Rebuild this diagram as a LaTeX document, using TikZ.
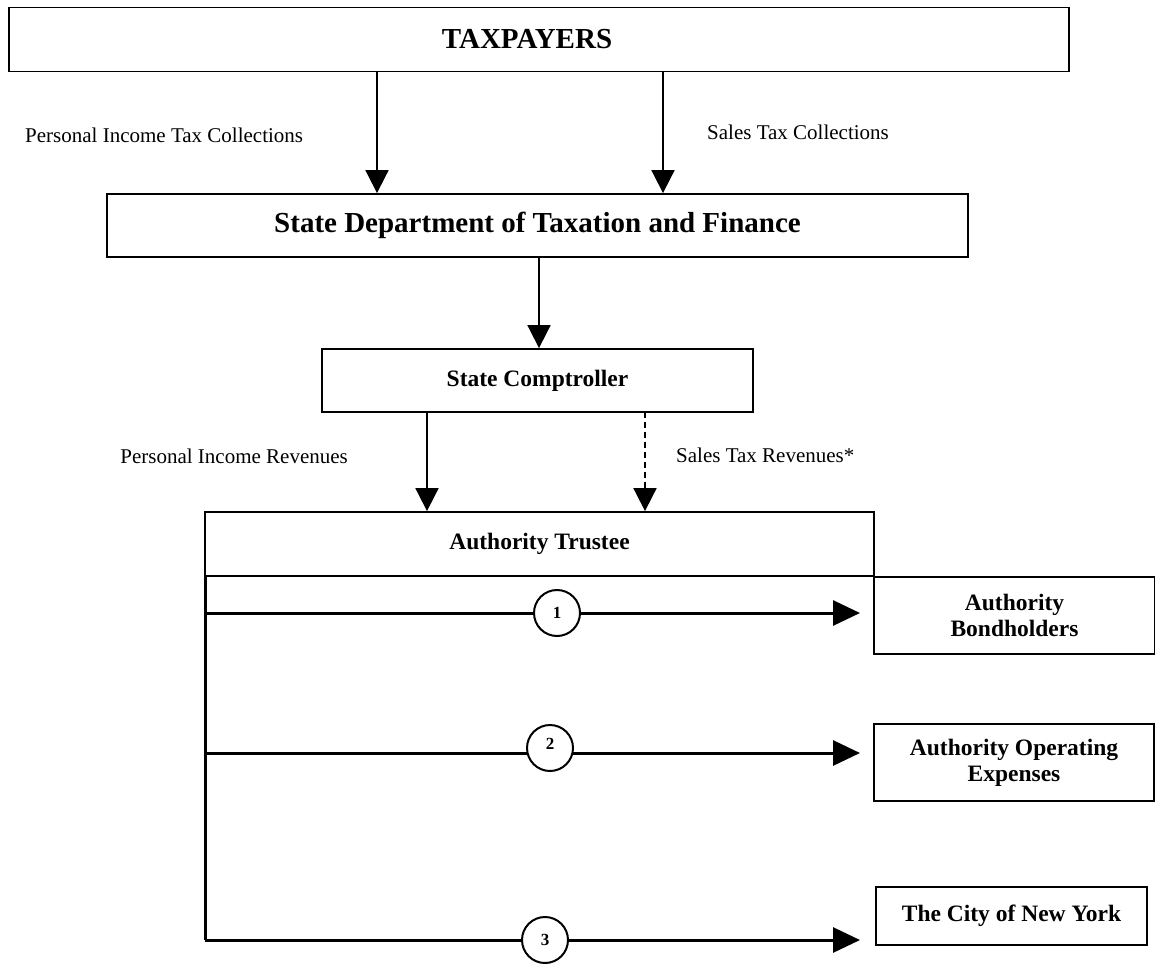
\documentclass[tikz,border=0pt]{standalone}
\usepackage{fontspec}
\setmainfont{Liberation Serif}
\usetikzlibrary{arrows.meta}
\begin{document}
\begin{tikzpicture}[x=1pt,y=-1pt,
  box/.style={draw,line width=1.8pt,inner sep=0pt,outer sep=0pt,font=\fontsize{23.5}{26}\selectfont\bfseries,align=center},
  lbl/.style={font=\fontsize{21}{24}\selectfont,inner sep=0pt},
  arr/.style={line width=1.8pt,-{Triangle[length=23pt,width=23pt]}},
  harr/.style={line width=3pt,-{Triangle[length=27pt,width=25pt]}},
  circ/.style={circle,draw,line width=2pt,fill=white,minimum size=46pt,inner sep=0pt,font=\fontsize{17}{19}\selectfont\bfseries}]
\useasboundingbox (0,0) rectangle (1155,963);

% boxes
\node[box,minimum width=1060pt,minimum height=64pt,font=\fontsize{29}{32}\selectfont\bfseries] (tax) at (539,39.5) {\hspace*{-24pt}TAXPAYERS};
\node[box,minimum width=861pt,minimum height=63pt,font=\fontsize{29}{32}\selectfont\bfseries] (dept) at (537.5,225.5) {\raisebox{-3pt}{State Department of Taxation and Finance}};
\node[box,minimum width=431pt,minimum height=63pt] (comp) at (537.5,380.5) {State Comptroller};
\node[box,minimum width=669pt,minimum height=64pt] (trustee) at (539.5,544) {\raisebox{-2pt}{Authority Trustee}};
\node[box,minimum width=281pt,minimum height=77pt] (bond) at (1014.5,615.5) {Authority\\Bondholders};
\node[box,minimum width=280pt,minimum height=77pt] (opex) at (1014,762.5) {Authority Operating\\Expenses};
\node[box,minimum width=271pt,minimum height=58pt] (city) at (1011.5,916) {The City of New York};

% labels
\node[lbl,anchor=west] (l1) at (25,135) {Personal Income Tax Collections};
\node[lbl,anchor=west] (l2) at (707,132) {Sales Tax Collections};
\node[lbl,anchor=east] (l3) at (348,456) {Personal Income Revenues};
\node[lbl,anchor=west] (l4) at (676,455) {Sales Tax Revenues*};

% x positions of vertical connectors
\coordinate (xa) at (377,0);
\coordinate (xb) at (663,0);
\coordinate (xc) at (539,0);
\coordinate (xd) at (427,0);
\coordinate (xe) at (645,0);

\draw[arr,shorten >=0.9pt] (tax.south -| xa) -- (dept.north -| xa);
\draw[arr,shorten >=0.9pt] (tax.south -| xb) -- (dept.north -| xb);
\draw[arr,shorten >=0.9pt] (dept.south -| xc) -- (comp.north -| xc);
\draw[arr,shorten >=0.9pt] (comp.south -| xd) -- (trustee.north -| xd);
\draw[arr,shorten >=0.9pt,dash pattern=on 6pt off 4pt] (comp.south -| xe) -- (trustee.north -| xe);

% distribution trunk
\coordinate (j1) at (205,613);
\coordinate (j2) at (205,753);
\coordinate (j3) at (205,940);
\draw[line width=3pt] (trustee.south west) -- (j3);
\draw[harr,shorten >=14pt] (j1) -- (j1 -| bond.west);
\draw[harr,shorten >=14pt] (j2) -- (j2 -| opex.west);
\draw[harr,shorten >=16pt] (j3) -- (j3 -| city.west);

\node[circ] (c1) at (557,613) {1};
\node[circ] (c2) at (550,748) {\raisebox{8pt}{2}};
\node[circ] (c3) at (545,940) {3};
\end{tikzpicture}
\end{document}
